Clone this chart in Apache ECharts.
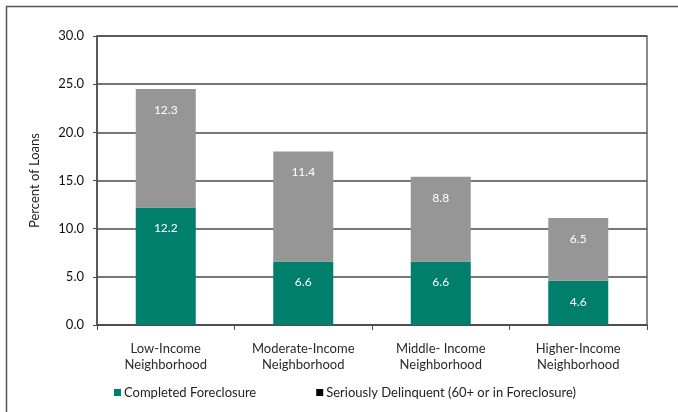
<!DOCTYPE html>
<html>
<head>
<meta charset="utf-8">
<script src="https://cdn.jsdelivr.net/npm/echarts@6/dist/echarts.min.js"></script>
<style>html,body{margin:0;padding:0;background:#fff;}#c{width:678px;height:412px;}</style>
</head>
<body>
<div id="c"></div>
<script>
var categories = ['Low-Income\nNeighborhood', 'Moderate-Income\nNeighborhood', 'Middle- Income\nNeighborhood', 'Higher-Income\nNeighborhood'];
var completedForeclosure = [12.2, 6.6, 6.6, 4.6];
var seriouslyDelinquent = [12.3, 11.4, 8.8, 6.5];
var seriesNames = ['Completed Foreclosure', 'Seriously Delinquent (60+ or in Foreclosure)'];
var yAxisName = 'Percent of Loans';

var font = 'Lato, "Open Sans", sans-serif';
var chart = echarts.init(document.getElementById('c'), null, {renderer: 'canvas'});
chart.setOption({
  animation: false,
  backgroundColor: '#fff',
  textStyle: {fontFamily: font},
  graphic: [{
    type: 'rect', left: 4, top: 4,
    shape: {width: 700, height: 420},
    style: {fill: 'none', stroke: '#555', lineWidth: 1.5}, silent: true, z: 0
  }],
  grid: {left: 97, right: 31, top: 36, bottom: 87, show: true, borderColor: '#666', borderWidth: 1.5, backgroundColor: 'transparent'},
  legend: {
    bottom: 8, left: 109,
    icon: 'rect', itemWidth: 7, itemHeight: 7, itemGap: 60,
    textStyle: {fontFamily: font, fontSize: 13, color: '#222', padding: [0, 0, 0, -2]},
    data: [
      {name: seriesNames[0]},
      {name: seriesNames[1], itemStyle: {color: '#000'}}
    ]
  },
  xAxis: {
    type: 'category', data: categories,
    axisLine: {lineStyle: {color: '#4a4a4a', width: 1.5}},
    axisTick: {show: true, length: 5, lineStyle: {color: '#4a4a4a'}},
    axisLabel: {fontFamily: font, fontSize: 13, color: '#2a2a2a', lineHeight: 16, margin: 16, interval: 0}
  },
  yAxis: {
    type: 'value', min: 0, max: 30, interval: 5,
    name: yAxisName, nameLocation: 'middle', nameGap: 56,
    nameTextStyle: {fontFamily: font, fontSize: 13, color: '#222'},
    axisLine: {show: true, lineStyle: {color: '#4a4a4a', width: 1.5}},
    axisTick: {show: true, length: 4, lineStyle: {color: '#4a4a4a'}},
    axisLabel: {fontFamily: font, fontSize: 13, color: '#111', margin: 13, formatter: function (v) { return v.toFixed(1); }},
    splitLine: {show: true, lineStyle: {color: '#4a4a4a', width: 1.5}}
  },
  series: [
    {
      name: seriesNames[0], type: 'bar', stack: 'a', data: completedForeclosure, barWidth: 60,
      itemStyle: {color: '#00806c'},
      label: {show: true, position: 'insideTop', distance: 15, color: '#fff', fontSize: 12, fontFamily: font, formatter: function (p) { return p.value.toFixed(1); }}
    },
    {
      name: seriesNames[1], type: 'bar', stack: 'a', data: seriouslyDelinquent, barWidth: 60,
      itemStyle: {color: '#969696'},
      label: {show: true, position: 'insideTop', distance: 15, color: '#fff', fontSize: 12, fontFamily: font, formatter: function (p) { return p.value.toFixed(1); }}
    }
  ]
});
</script>
</body>
</html>
